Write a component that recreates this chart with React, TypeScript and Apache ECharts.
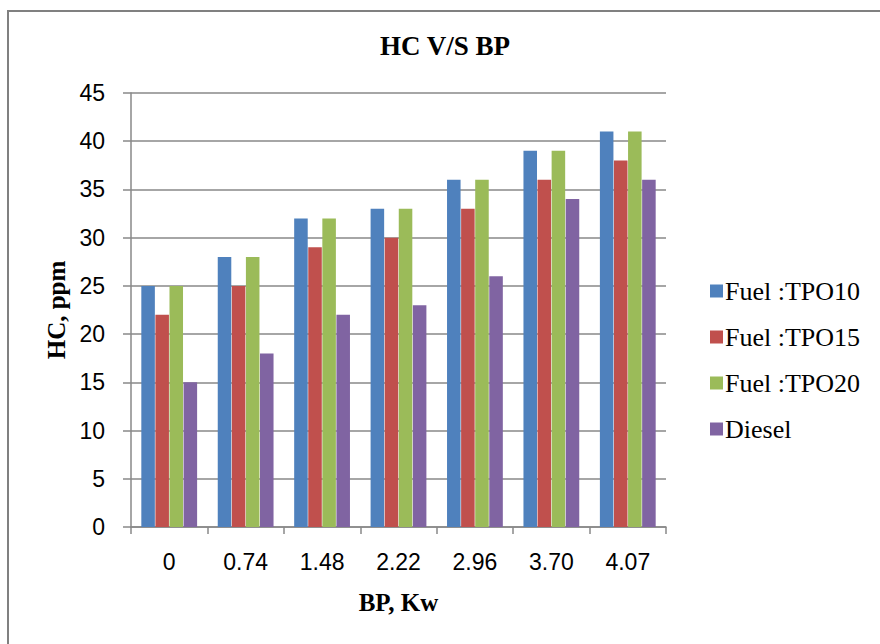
import React, { useEffect, useRef } from "react";
import * as echarts from "echarts";

const categories = ["0", "0.74", "1.48", "2.22", "2.96", "3.70", "4.07"];
const seriesNames = ["Fuel :TPO10", "Fuel :TPO15", "Fuel :TPO20", "Diesel"];
const tpo10 = [25, 28, 32, 33, 36, 39, 41];
const tpo15 = [22, 25, 29, 30, 33, 36, 38];
const tpo20 = [25, 28, 32, 33, 36, 39, 41];
const diesel = [15, 18, 22, 23, 26, 34, 36];
const colors = ["#4F81BD", "#C0504D", "#9BBB59", "#8064A2"];

export default function App() {
  const ref = useRef<HTMLDivElement>(null);
  useEffect(() => {
    if (!ref.current) return;
    const chart = echarts.init(ref.current, null, { renderer: "svg" });
    const data = [tpo10, tpo15, tpo20, diesel];
    const serif = "Liberation Serif";
    const sans = "Liberation Sans";
    chart.setOption({
      animation: false,
      backgroundColor: "#ffffff",
      title: {
        text: "HC V/S BP",
        left: 440,
        top: 27,
        textAlign: "center",
        textStyle: { fontFamily: serif, fontWeight: "bold", fontSize: 27, color: "#000" },
      },
      graphic: [
        {
          type: "rect",
          shape: { x: 8, y: 11, width: 900, height: 700 },
          style: { fill: "none", stroke: "#808080", lineWidth: 2 },
          silent: true,
        },
      ],
      legend: {
        orient: "vertical",
        left: 705,
        top: 273,
        itemWidth: 13,
        itemHeight: 13,
        itemGap: 20,
        icon: "rect",
        textStyle: { fontFamily: serif, fontSize: 26, color: "#000", lineHeight: 25, padding: [0, 0, 0, -3] },
        data: seriesNames,
      },
      grid: { left: 131, right: 214, top: 93, bottom: 117, containLabel: false },
      xAxis: {
        type: "category",
        data: categories,
        name: "BP, Kw",
        nameLocation: "middle",
        nameGap: 63,
        nameTextStyle: { fontFamily: serif, fontWeight: "bold", fontSize: 25, color: "#000" },
        axisLine: { lineStyle: { color: "#888", width: 1.5 } },
        axisTick: { show: true, length: 7, lineStyle: { color: "#888", width: 1.5 } },
        axisLabel: { fontFamily: sans, fontSize: 23, color: "#000", margin: 23 },
      },
      yAxis: {
        type: "value",
        min: 0,
        max: 45,
        interval: 5,
        name: "HC, ppm",
        nameLocation: "middle",
        nameGap: 61,
        nameRotate: 90,
        nameTextStyle: { fontFamily: serif, fontWeight: "bold", fontSize: 25, color: "#000" },
        axisLine: { show: true, lineStyle: { color: "#888", width: 1.5 } },
        axisTick: { show: true, length: 8, lineStyle: { color: "#888", width: 1.5 } },
        splitLine: { show: true, lineStyle: { color: "#888", width: 1.5 } },
        axisLabel: { fontFamily: sans, fontSize: 23, color: "#000", margin: 26 },
      },
      series: seriesNames.map((name, i) => ({
        name,
        type: "bar",
        data: data[i],
        itemStyle: { color: colors[i] },
        barGap: "4%",
        barCategoryGap: "27%",
      })),
    });
    return () => chart.dispose();
  }, []);
  return (
    <div
      ref={ref}
      style={{ position: "fixed", left: 0, top: 0, width: 880, height: 644 }}
    />
  );
}
